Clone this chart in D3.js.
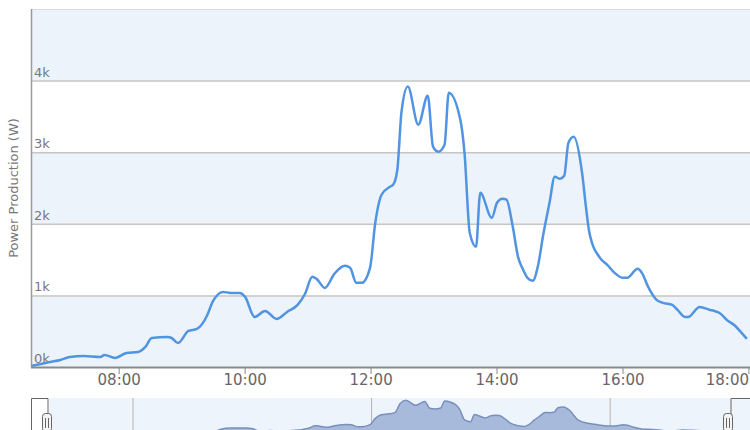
<!DOCTYPE html>
<html>
<head>
<meta charset="utf-8">
<script src="https://cdn.jsdelivr.net/npm/d3@7"></script>
<style>
  body { margin: 0; background: #fff; }
  svg { display: block; font-family: "DejaVu Sans", Verdana, sans-serif; }
  .ylab { fill: #777; font-size: 13px; }
  .xlab { fill: #666; font-size: 15px; }
  .title { fill: #777; font-size: 13px; }
</style>
</head>
<body>
<svg width="750" height="430"></svg>
<script>
// power readings (time of day, watts)
const times = ['06:36','06:54','07:04','07:13','07:26','07:42','07:46','07:56','08:07','08:18','08:25','08:31',
  '08:46','08:50','08:56','09:06','09:14','09:24','09:29','09:39','09:46','09:55','10:00','10:09','10:19',
  '10:30','10:40','10:50','10:57','11:04','11:08','11:16','11:25','11:35','11:40','11:46','11:51','11:59',
  '12:04','12:10','12:18','12:21','12:25','12:29','12:35','12:45','12:54','12:59','13:04','13:10','13:14',
  '13:25','13:29','13:34','13:40','13:44','13:55','14:00','14:05','14:09','14:15','14:20','14:24','14:29',
  '14:34','14:39','14:44','14:50','14:55','15:00','15:04','15:08','15:13','15:21','15:25','15:28','15:38',
  '15:45','15:52','16:00','16:04','16:14','16:18','16:24','16:32','16:38','16:47','16:52','16:59','17:02',
  '17:13','17:23','17:27','17:32','17:39','17:47','17:53','17:58']
const watts = [14,70,98,140,154,140,168,126,196,210,280,405,
  420,405,336,503,531,727,909,1049,1035,1035,979,699,783,
  671,769,867,1020,1259,1231,1105,1301,1413,1385,1175,1175,1385,
  2014,2406,2517,2545,2755,3566,3916,3385,3790,3077,3007,3105,3832,
  3455,2993,1874,1678,2434,2084,2294,2350,2336,1958,1538,1385,1245,
  1203,1413,1846,2294,2657,2629,2671,3133,3217,2713,2196,1874,1524,
  1427,1315,1245,1245,1371,1315,1119,937,895,867,797,699,699,
  839,797,783,755,657,573,476,392]
const yTicks = [0,1000,2000,3000,4000]
const tickLabels = ['0k','1k','2k','3k','4k']

const parse = d3.timeParse('%H:%M')
const data = times.map((t,i) => ({t: parse(t), v: watts[i]}))

const svg = d3.select('svg')
const plotL = 31, plotR = 750, plotT = 9, plotB = 367

const x = d3.scaleTime().domain([parse('06:36'), parse('18:01')]).range([plotL, plotR])
const y = d3.scaleLinear().domain([0,5000]).range([plotB, plotT])

/* alternating bands */
const bands = d3.range(0,5000,1000)
svg.append('g').selectAll('rect').data(bands)
  .enter().append('rect')
  .attr('x',plotL).attr('width',plotR-plotL)
  .attr('y',d => y(d+1000)).attr('height',d => y(d)-y(d+1000))
  .attr('fill',(d,i) => i%2==0 ? '#edf3fb' : '#fff')

/* grid */
svg.append('g').selectAll('line').data(yTicks.slice(1).concat([5000]))
  .enter().append('line')
  .attr('x1',plotL).attr('x2',plotR)
  .attr('y1',d => y(d)+0.5).attr('y2',d => y(d)+0.5)
  .attr('stroke',d => d==5000 ? '#dcdcdc' : '#c6c6c2').attr('stroke-width',d => d==5000 ? 1 : 1.5)

svg.append('g').selectAll('text').data(yTicks)
  .enter().append('text').classed('ylab',true)
  .attr('x',plotL+3).attr('y',d => y(d)-4)
  .text((d,i) => tickLabels[i])

/* line */
const line = d3.line().x(d => x(d.t)).y(d => y(d.v)).curve(d3.curveMonotoneX)
svg.append('path').datum(data)
  .attr('d',line)
  .attr('fill','none')
  .attr('stroke','#5094e2')
  .attr('stroke-width',2.5)
  .attr('stroke-linejoin','round')

/* axes lines */
svg.append('line').attr('x1',plotL+0.5).attr('x2',plotL+0.5).attr('y1',plotT).attr('y2',plotB)
  .attr('stroke','#9a9a9a').attr('stroke-width',1.5)
svg.append('line').attr('x1',plotL).attr('x2',plotR).attr('y1',plotB+0.5).attr('y2',plotB+0.5)
  .attr('stroke','#8a8a8a').attr('stroke-width',2)

const xt = x.ticks(d3.timeHour.every(2))
const xg = svg.append('g').selectAll('g').data(xt)
  .enter().append('g')
  .attr('transform',d => `translate(${x(d)},0)`)
xg.append('line').attr('y1',plotB).attr('y2',plotB+7).attr('stroke','#888').attr('stroke-width',1)
xg.append('text').classed('xlab',true)
  .attr('y',plotB+18)
  .attr('text-anchor',d => x(d)+22 > plotR ? 'end' : 'middle')
  .attr('x',d => x(d)+22 > plotR ? plotR-1-x(d) : 0)
  .text(d => d3.timeFormat('%H:%M')(d))

svg.append('text').classed('title',true)
  .attr('transform',`translate(18,${(plotT+plotB)/2}) rotate(-90)`)
  .attr('text-anchor','middle')
  .text('Power Production (W)')

/* navigator */
const navTop = 398, navBottom = 438
const nx = d3.scaleTime().domain(x.domain()).range([49, 730])
const ny = d3.scaleLinear().domain([0,4150]).range([navBottom, navTop])

svg.append('rect').attr('x',49).attr('y',navTop).attr('width',plotR-49).attr('height',navBottom-navTop)
  .attr('fill','#eef4fc')

svg.append('g').selectAll('line').data(nx.ticks(d3.timeHour.every(4)))
  .enter().append('line')
  .attr('x1',d => nx(d)+0.5).attr('x2',d => nx(d)+0.5)
  .attr('y1',navTop).attr('y2',navBottom)
  .attr('stroke','#b4b4b4')

const area = d3.area().x(d => nx(d.t)).y0(navBottom).y1(d => ny(d.v)).curve(d3.curveMonotoneX)
svg.append('path').datum(data)
  .attr('d',area)
  .attr('fill','#a8badb')
  .attr('stroke','#7890bb')
  .attr('stroke-width',1.5)

/* outline */
svg.append('path')
  .attr('d',`M${plotL+0.5},${navBottom} V${navTop+0.5} H${nx.range()[0]-1} V414`)
  .attr('fill','none').attr('stroke','#666').attr('stroke-width',1)
svg.append('path')
  .attr('d',`M${nx.range()[1]+1},414 V${navTop+0.5} H${plotR}`)
  .attr('fill','none').attr('stroke','#666').attr('stroke-width',1)

/* handles */
const handles = svg.append('g').selectAll('g').data(nx.range())
  .enter().append('g')
  .attr('transform',d => `translate(${d-2},0)`)
handles.append('rect')
  .attr('x',-4.5).attr('y',413.5).attr('width',9).attr('height',18).attr('rx',3)
  .attr('fill','#f4f4f4').attr('stroke','#666')
handles.selectAll('line').data([-1.5,1.5])
  .enter().append('line')
  .attr('x1',d => d).attr('x2',d => d).attr('y1',418).attr('y2',428)
  .attr('stroke','#666')
</script>
</body>
</html>
